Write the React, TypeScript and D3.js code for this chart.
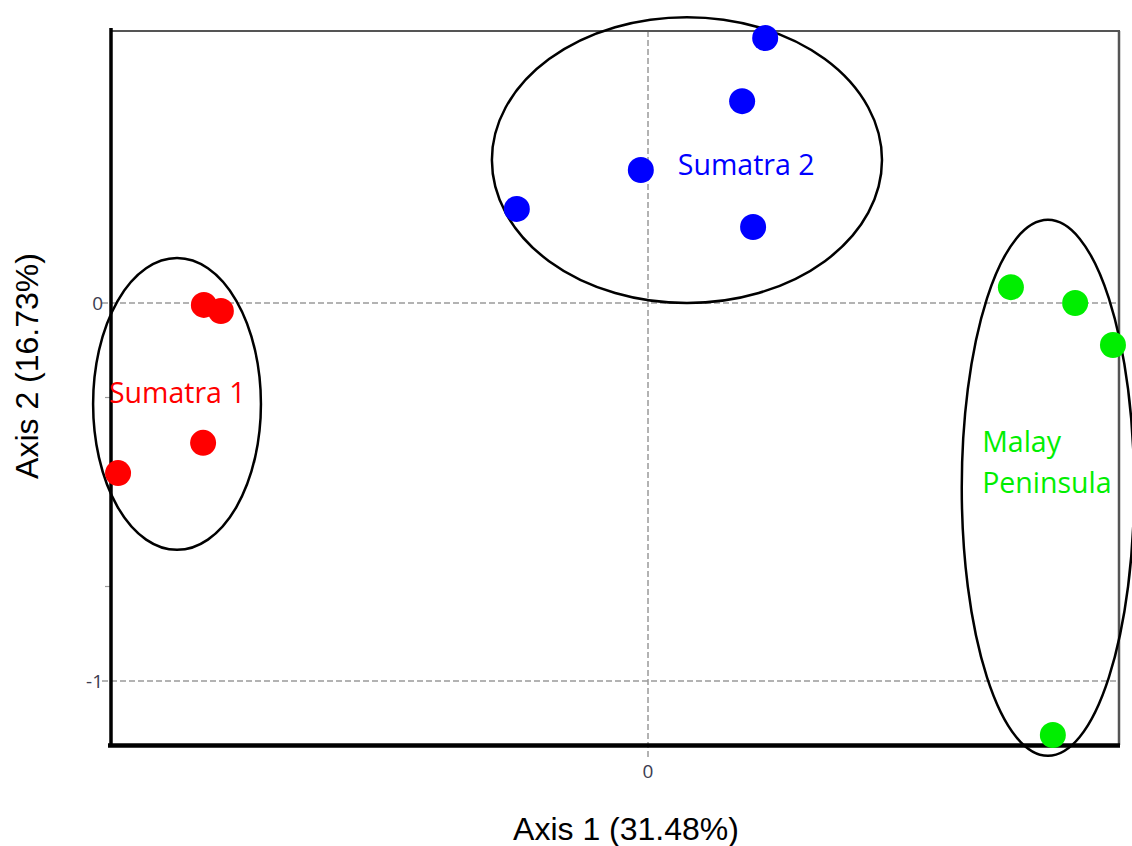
import React from "react";
import * as d3 from "d3";

// PCoA scores per population (Axis 1, Axis 2)
const sumatra1X = [-1.175, -1.13, -1.177, -1.402];
const sumatra1Y = [-0.005, -0.021, -0.37, -0.45];
const sumatra2X = [0.31, 0.249, -0.019, -0.347, 0.278];
const sumatra2Y = [0.701, 0.534, 0.352, 0.249, 0.201];
const malayX = [0.96, 1.13, 1.23, 1.071];
const malayY = [0.042, 0.0, -0.111, -1.143];

const groupNames = ["Sumatra 1", "Sumatra 2", "Malay Peninsula"];
const groupColors = ["#ff0000", "#0000ff", "#00ee00"];
// cluster ellipses: centre x, centre y, radius x, radius y (axis units)
const ellipseCx = [-1.246, 0.103, 1.058];
const ellipseCy = [-0.267, 0.378, -0.489];
const ellipseRx = [0.222, 0.516, 0.228];
const ellipseRy = [0.386, 0.378, 0.709];
// group label anchor (axis units), label lines
const labelX = [-1.426, 0.079, 0.884];
const labelY = [-0.264, 0.339, -0.395];
const labelLines = [["Sumatra 1"], ["Sumatra 2"], ["Malay", "Peninsula"]];

const xTicks = [0];
const yTicks = [0, -1];
const yMinorTicks = [-0.25, -0.75];

const xDomain = [-1.4233, 1.246];
const yDomain = [-1.1693, 0.7196];

const W = 1132;
const H = 846;
const plot = { left: 110, right: 1119, top: 31, bottom: 745 };

export default function App() {
  const x = d3.scaleLinear().domain(xDomain).range([plot.left, plot.right]);
  const y = d3.scaleLinear().domain(yDomain).range([plot.bottom, plot.top]);

  const groups = [
    { xs: sumatra1X, ys: sumatra1Y },
    { xs: sumatra2X, ys: sumatra2Y },
    { xs: malayX, ys: malayY },
  ];

  const tickFont = "'Open Sans', 'DejaVu Sans', sans-serif";
  const labelFont = "'Open Sans', 'Noto Sans', sans-serif";
  const titleFont = "'Liberation Sans', Arial, sans-serif";

  return (
    <svg
      width={W}
      height={H}
      style={{ position: "absolute", left: 0, top: 0, background: "#fff" }}
    >
      {/* grid lines through the tick values */}
      {yTicks.map((t) => (
        <line
          key={"gy" + t}
          x1={plot.left - 8}
          x2={plot.right}
          y1={y(t)}
          y2={y(t)}
          stroke="#9a9a9a"
          strokeWidth={1.5}
          strokeDasharray="6,3"
        />
      ))}
      {xTicks.map((t) => (
        <line
          key={"gx" + t}
          x1={x(t)}
          x2={x(t)}
          y1={plot.top}
          y2={plot.bottom + 12}
          stroke="#9a9a9a"
          strokeWidth={1.5}
          strokeDasharray="6,3"
        />
      ))}
      {yMinorTicks.map((t) => (
        <line
          key={"my" + t}
          x1={plot.left - 5}
          x2={plot.left}
          y1={y(t)}
          y2={y(t)}
          stroke="#9a9a9a"
          strokeWidth={1.2}
        />
      ))}

      {/* frame: thin grey top/right, heavy black left/bottom */}
      <line x1={plot.left} x2={plot.right + 1} y1={plot.top} y2={plot.top} stroke="#555" strokeWidth={2} />
      <line x1={plot.right} x2={plot.right} y1={plot.top} y2={plot.bottom} stroke="#555" strokeWidth={2.5} />
      <line x1={plot.left + 1} x2={plot.left + 1} y1={plot.top - 3} y2={plot.bottom + 2} stroke="#000" strokeWidth={3.5} />
      <line x1={plot.left - 2} x2={plot.right + 1} y1={plot.bottom + 0.5} y2={plot.bottom + 0.5} stroke="#000" strokeWidth={4.5} />

      {/* tick labels */}
      {xTicks.map((t) => (
        <text
          key={"tx" + t}
          x={x(t)}
          y={plot.bottom + 33}
          textAnchor="middle"
          fontFamily={tickFont}
          fontSize={19}
          fill="#3c3c50"
        >
          {t}
        </text>
      ))}
      {yTicks.map((t) => (
        <text
          key={"ty" + t}
          x={plot.left - 7}
          y={y(t)}
          dy="0.35em"
          textAnchor="end"
          fontFamily={tickFont}
          fontSize={19}
          fill="#3c3c50"
        >
          {t}
        </text>
      ))}

      {/* cluster ellipses */}
      {groupNames.map((g, i) => (
        <ellipse
          key={"e" + g}
          cx={x(ellipseCx[i])}
          cy={y(ellipseCy[i])}
          rx={x(ellipseRx[i]) - x(0)}
          ry={y(0) - y(ellipseRy[i])}
          fill="none"
          stroke="#000"
          strokeWidth={2.5}
        />
      ))}

      {/* samples */}
      {groups.map((g, i) =>
        g.xs.map((v, j) => (
          <circle
            key={groupNames[i] + j}
            cx={x(v)}
            cy={y(g.ys[j])}
            r={13}
            fill={groupColors[i]}
          />
        ))
      )}

      {/* group labels */}
      {groupNames.map((g, i) => (
        <text
          key={"l" + g}
          x={x(labelX[i])}
          y={y(labelY[i])}
          fontFamily={labelFont}
          fontSize={28.5}
          fill={groupColors[i]}
        >
          {labelLines[i].map((line, k) => (
            <tspan key={k} x={x(labelX[i])} dy={k === 0 ? 0 : 41}>
              {line}
            </tspan>
          ))}
        </text>
      ))}

      {/* axis titles */}
      <text
        x={626}
        y={840}
        textAnchor="middle"
        fontFamily={titleFont}
        fontSize={32}
        fill="#000"
      >
        Axis 1 (31.48%)
      </text>
      <text
        transform={`translate(38,${(plot.top + plot.bottom) / 2 - 22}) rotate(-90)`}
        textAnchor="middle"
        fontFamily={titleFont}
        fontSize={32}
        fill="#000"
      >
        Axis 2 (16.73%)
      </text>
    </svg>
  );
}
